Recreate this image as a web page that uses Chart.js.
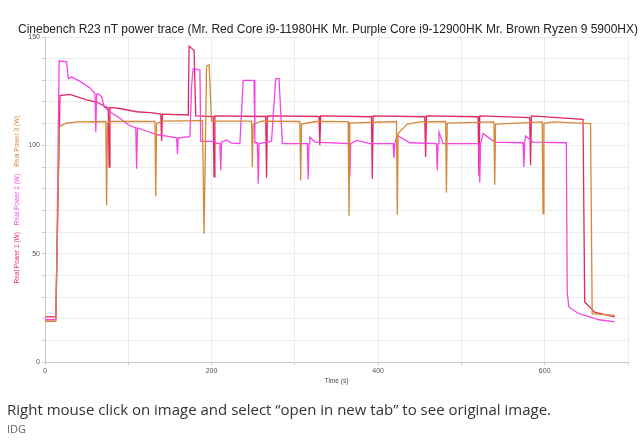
<!DOCTYPE html>
<html><head><meta charset="utf-8">
<script src="https://cdn.jsdelivr.net/npm/chart.js@4.4.1/dist/chart.umd.min.js"></script>
<style>
html,body{margin:0;padding:0;background:#fff;}
#wrap{position:relative;width:642px;height:443px;overflow:hidden;}
canvas{position:absolute;left:0;top:0;}
#cap{position:absolute;left:7px;top:399px;font-family:"Open Sans",sans-serif;font-size:15px;color:#333;white-space:nowrap;}
#src{position:absolute;left:7px;top:421px;font-family:"Open Sans",sans-serif;font-size:11px;color:#666;}
</style></head>
<body>
<div id="wrap">
<canvas id="c" width="642" height="443"></canvas>
<div id="cap">Right mouse click on image and select “open in new tab” to see original image.</div>
<div id="src">IDG</div>
</div>
<script>
// Mr. Red Core i9-11980HK  (Real Power 1)
const redTime  = [0, 13, 14, 18, 30, 50, 62, 76, 77, 78, 90, 110, 130, 139, 140, 141, 172, 173, 179, 181, 202, 203, 204, 265, 266, 267, 329, 330, 331, 392, 393, 394, 456, 457, 458, 520, 521, 522, 582, 583, 584, 646, 648, 660, 684];
const redPower = [20.8, 20.8, 43, 123, 123.5, 121, 120, 117.2, 90, 117.5, 117, 115.5, 115, 114.4, 102, 114.4, 114, 145.8, 143.8, 113.6, 113.3, 85.4, 113.6, 113.3, 85, 113.6, 113.3, 100, 113.6, 113.2, 84.6, 113.6, 113.2, 94.6, 113.6, 113.2, 86, 113.6, 112.8, 90.8, 113.6, 112, 27.7, 23, 20.8];

// Mr. Purple Core i9-12900HK  (Real Power 2)
const purpleTime  = [0, 13, 14, 17, 26, 28, 32, 42, 54, 60, 61, 62, 63, 68, 71, 78, 90, 100, 109, 110, 111, 122, 134, 146, 158, 159, 160, 174, 176, 177, 178, 186, 187, 204, 206, 210, 211, 212, 218, 224, 234, 238, 251, 252, 255, 256, 257, 268, 272, 277, 281, 285, 315, 316, 317, 318, 324, 365, 366, 367, 374, 390, 418, 419, 420, 423, 438, 470, 471, 472, 473, 478, 521, 522, 523, 526, 540, 574, 575, 576, 577, 586, 626, 627, 629, 640, 654, 665, 684];
const purplePower = [19.5, 19.5, 43, 139, 138.5, 130.8, 131.5, 129.5, 126.5, 123.8, 106, 123.5, 124, 122.5, 117.7, 115.5, 112.5, 109.5, 108, 89.2, 108, 106.5, 105, 104.2, 103.5, 96, 103.5, 104, 127, 132, 135.4, 134.8, 101.8, 101.8, 100.8, 101, 88.5, 101.5, 102.5, 101, 100.8, 130, 130, 101.2, 101.2, 82.3, 100.8, 101.5, 102, 130.8, 130.8, 100.8, 100.8, 84.3, 100.8, 103.8, 101.5, 100.8, 85.4, 100.8, 102.3, 100.8, 100.8, 94.2, 100.8, 104.6, 101.2, 100.8, 88.5, 100.8, 106.2, 100.8, 100.8, 82.8, 100.8, 105.4, 101.5, 101.2, 90, 101.2, 104.3, 101.5, 101.2, 32.3, 25.4, 22.5, 20.8, 19.5, 18.5];

// Mr. Brown Ryzen 9 5900HX  (Real Power 3)
const brownTime  = [0, 13, 15, 17, 25, 40, 73, 74, 75, 80, 132, 133, 134, 140, 189, 191, 194, 197, 200, 248, 249, 250, 260, 306, 307, 308, 325, 364, 365, 366, 422, 423, 424, 435, 450, 481, 482, 483, 539, 540, 541, 597, 598, 599, 610, 655, 657, 684];
const brownPower = [18.8, 18.8, 60, 108.5, 110.2, 110.8, 111, 72.3, 110.3, 111, 111, 76.5, 110, 111.2, 111.4, 59.2, 136.6, 137.2, 111.2, 111.2, 90, 109.8, 111.2, 111, 83.8, 109.8, 111, 110.9, 67.5, 110.3, 111, 68, 105.5, 109.8, 110.8, 111, 78.2, 110.3, 110.8, 81.8, 109.8, 110.8, 68.5, 110.2, 110.8, 110, 22.3, 21.5];

const titleText = "Cinebench R23 nT power trace (Mr. Red Core i9-11980HK Mr. Purple Core i9-12900HK Mr. Brown Ryzen 9 5900HX)";
const yTitles = ["Real Power 1 (W)", "Real Power 2 (W)", "Real Power 3 (W)"];
const xTitle = "Time (s)";

const RED = '#e3285a', PURPLE = '#f544e8', BROWN = '#d4883a';

function pts(t, v){ return t.map((x,i)=>({x:x, y:v[i]})); }

const textPlugin = {
  id:'texts',
  afterDraw(chart){
    const ctx = chart.ctx, a = chart.chartArea;
    ctx.save();
    ctx.fillStyle = '#222';
    ctx.font = '12px "Liberation Sans", Arial, sans-serif';
    ctx.textAlign = 'center';
    ctx.textBaseline = 'middle';
    ctx.fillText(titleText, 328, 30);
    ctx.font = '6.5px "Liberation Sans", Arial, sans-serif';
    ctx.fillStyle = '#444';
    ctx.fillText(xTitle, (a.left + a.right)/2, 381);
    // y titles, rotated
    ctx.translate(17, (a.top + a.bottom)/2);
    ctx.rotate(-Math.PI/2);
    const cols = [RED, PURPLE, BROWN];
    const gap = 7;
    const ws = yTitles.map(s=>ctx.measureText(s).width);
    const total = ws.reduce((p,c)=>p+c,0) + gap*2;
    let x = -total/2;
    ctx.textAlign = 'left';
    yTitles.forEach((s,i)=>{ ctx.fillStyle = cols[i]; ctx.fillText(s, x, 0); x += ws[i] + gap; });
    ctx.restore();
  }
};

new Chart(document.getElementById('c'), {
  type:'line',
  data:{ datasets:[
    {label:'Real Power 3 (W)', data:pts(brownTime, brownPower), borderColor:BROWN, borderWidth:1.3},
    {label:'Real Power 2 (W)', data:pts(purpleTime, purplePower), borderColor:PURPLE, borderWidth:1.3},
    {label:'Real Power 1 (W)', data:pts(redTime, redPower), borderColor:RED, borderWidth:1.3}
  ]},
  options:{
    responsive:false, animation:false, devicePixelRatio:1,
    elements:{ point:{radius:0}, line:{tension:0, fill:false} },
    layout:{ padding:{ left:0, top:37, right:14, bottom:61 } },
    plugins:{ legend:{display:false}, title:{display:false}, tooltip:{enabled:false} },
    scales:{
      x:{ type:'linear', min:0, max:700,
          ticks:{ stepSize:100, autoSkip:false, maxRotation:0, padding:2, color:'#555', font:{size:7, family:'"Liberation Sans", Arial'},
                  callback:v=> (v%200===0 && v<700) ? String(v) : '' },
          grid:{ color:'#ececec', tickLength:3, tickColor:'#ccc' },
          border:{ color:'#c8c8c8' },
          afterFit(s){ s.height = 20; } },
      y:{ min:0, max:150,
          ticks:{ stepSize:10, autoSkip:false, padding:2, color:'#555', font:{size:7, family:'"Liberation Sans", Arial'},
                  callback:v=> v%50===0 ? String(v) : '' },
          grid:{ color:'#ececec', tickLength:3, tickColor:'#ccc' },
          border:{ color:'#c8c8c8' },
          afterFit(s){ s.width = 45; } }
    }
  },
  plugins:[textPlugin]
});
</script>
</body></html>
